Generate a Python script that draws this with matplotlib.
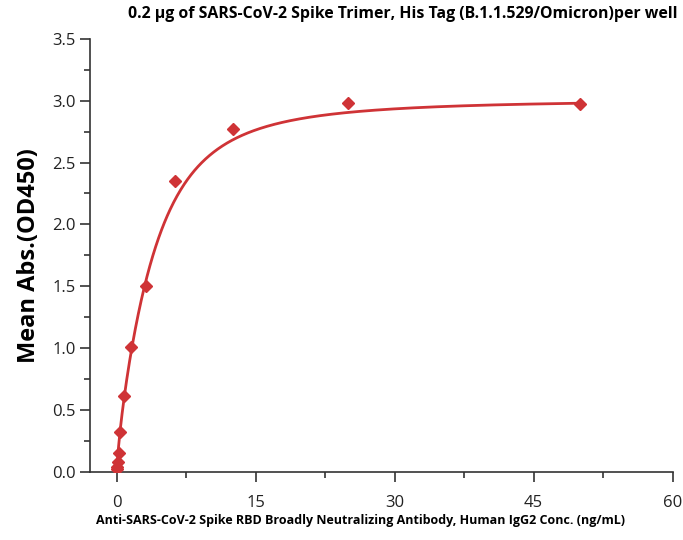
import numpy as np
import matplotlib
matplotlib.use("Agg")
import matplotlib.pyplot as plt
from matplotlib.ticker import MultipleLocator

# Data
conc = [50, 25, 12.5, 6.25, 3.125, 1.5625, 0.78125, 0.390625, 0.1953125, 0.09765625, 0.048828125, 0.0244140625]
od450 = [2.97, 2.98, 2.77, 2.35, 1.50, 1.01, 0.61, 0.32, 0.15, 0.08, 0.04, 0.02]

# fitted 5-parameter logistic curve parameters
fit_top = 3.01
fit_ec = 6.9
fit_hill = 1.85
fit_asym = 0.4

title = "0.2 μg of SARS-CoV-2 Spike Trimer, His Tag (B.1.1.529/Omicron)per well"
xlabel = "Anti-SARS-CoV-2 Spike RBD Broadly Neutralizing Antibody, Human IgG2 Conc. (ng/mL)"
ylabel = "Mean Abs.(OD450)"

color = "#cf3336"

x = np.array(conc, dtype=float)
y = np.array(od450, dtype=float)

xs = np.linspace(1e-4, 50, 800)
ys = fit_top / (1 + (fit_ec / xs) ** fit_hill) ** fit_asym

plt.rcParams['font.family'] = ['Open Sans', 'DejaVu Sans']
fig = plt.figure(figsize=(6.83, 5.40), dpi=100)
ax = fig.add_axes([0.1318, 0.1265, 0.853, 0.8015])

ax.plot(xs, ys, color=color, lw=2, zorder=2)
ax.plot(x, y, linestyle='none', marker='D', ms=6.5, color=color, zorder=3)

ax.set_xlim(-2.9, 60)
ax.set_ylim(0, 3.5)
ax.xaxis.set_major_locator(MultipleLocator(15))
ax.xaxis.set_minor_locator(MultipleLocator(7.5))
ax.yaxis.set_major_locator(MultipleLocator(0.5))
ax.yaxis.set_minor_locator(MultipleLocator(0.25))
ax.yaxis.set_major_formatter(matplotlib.ticker.FormatStrFormatter('%.1f'))
for s in ['top', 'right']:
    ax.spines[s].set_visible(False)
for s in ['left', 'bottom']:
    ax.spines[s].set_color('#333333')
    ax.spines[s].set_linewidth(1.2)
ax.tick_params(which='major', direction='out', length=7, width=1.2, color='#333333',
               labelsize=12, labelcolor='#222222')
ax.tick_params(which='minor', direction='out', length=4.5, width=1.2, color='#333333')
ax.tick_params(axis='x', pad=10)

ax.set_xlabel(xlabel, fontsize=9.0, fontweight='bold', labelpad=4)
ax.xaxis.set_label_coords(0.465, -0.097)
ax.set_ylabel(ylabel, fontsize=17, fontweight='bold', labelpad=8)
fig.text(0.59, 0.974, title, ha='center', va='center', fontsize=11.4, fontweight='bold')

fig.savefig("out.png", dpi=100)
